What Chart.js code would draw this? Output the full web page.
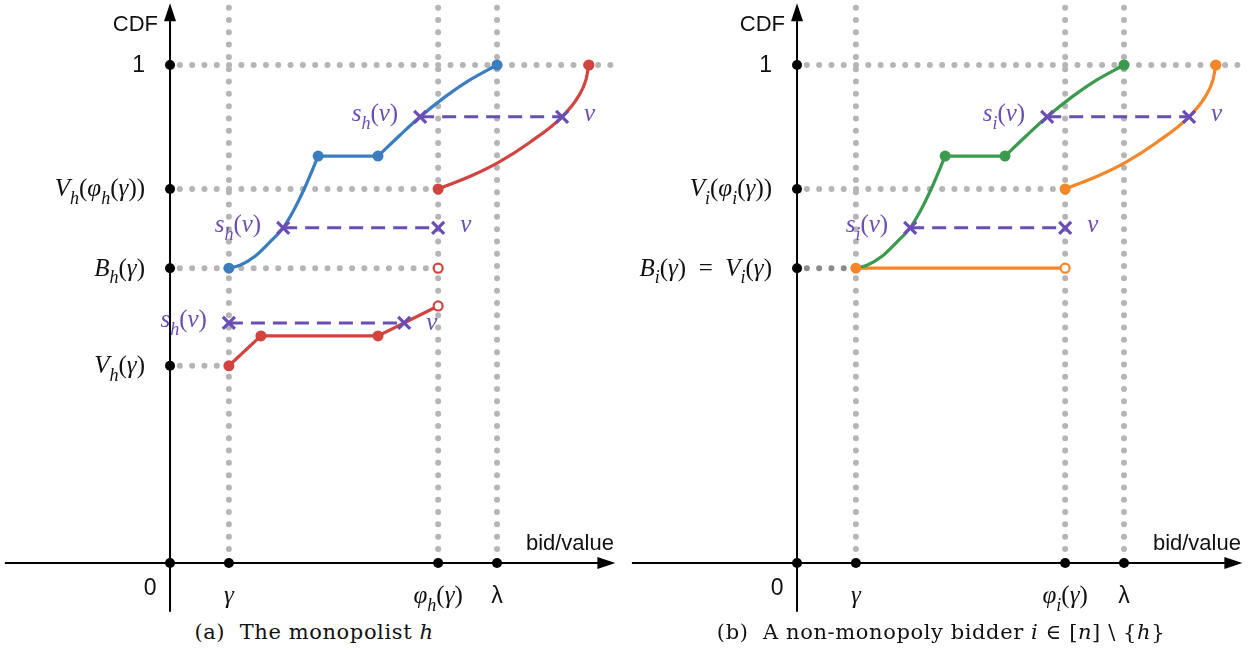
<!DOCTYPE html>
<html>
<head>
<meta charset="utf-8">
<script src="https://cdn.jsdelivr.net/npm/chart.js@4.4.1/dist/chart.umd.min.js"></script>
<style>
  body { margin: 0; background: #fff; width: 1257px; height: 657px; overflow: hidden; position: relative; }
  .panel { position: absolute; top: 0; width: 628px; height: 620px; }
  .cap { position: absolute; top: 620px; width: 628px; text-align: center;
         font-family: 'DejaVu Serif', serif; font-size: 21px; letter-spacing: 0.6px; color: #111; }
</style>
</head>
<body>
<div class="panel" style="left:0"><canvas id="chartA"></canvas></div>
<div class="panel" style="left:627px"><canvas id="chartB"></canvas></div>
<div class="cap" style="left:0">(a)&nbsp; The monopolist <i>h</i></div>
<div class="cap" style="left:627px">(b)&nbsp; A non-monopoly bidder <i>i</i> ∈ [<i>n</i>] \ {<i>h</i>}</div>

<script>
// ---- data (bid/value on x, CDF on y; λ = 1) ----
// ticks on the bid/value axis: 0, γ, φ(γ), λ
const xTicks = [0, 0.18, 0.82, 1.0];
const xTickLabelsA = ['0', 'γ', 'φ_h(γ)', 'λ'];
const xTickLabelsB = ['0', 'γ', 'φ_i(γ)', 'λ'];

// ticks on the CDF axis
const yTicksA = [0.396, 0.592, 0.751, 1.0];
const yTickLabelsA = ['V_h(γ)', 'B_h(γ)', 'V_h(φ_h(γ))', '1'];
const yTicksB = [0.592, 0.751, 1.0];
const yTickLabelsB = ['B_i(γ)  =  V_i(γ)', 'V_i(φ_i(γ))', '1'];

// bid distribution (blue in a, green in b): rise, flat, top
const bidRiseX = [0.18, 0.214, 0.26, 0.306, 0.346, 0.382, 0.413, 0.453];
const bidRiseY = [0.592, 0.598, 0.616, 0.645, 0.673, 0.713, 0.755, 0.817];
const bidFlatX = [0.453, 0.636];
const bidFlatY = [0.817, 0.817];
const bidTopX = [0.636, 0.703, 0.765, 0.841, 0.917, 1.0];
const bidTopY = [0.817, 0.859, 0.896, 0.936, 0.970, 1.0];
const bidKnotX = [0.18, 0.453, 0.636, 1.0];
const bidKnotY = [0.592, 0.817, 0.817, 1.0];

// value distribution of the monopolist, below the jump (red)
const valLowX = [0.18, 0.278, 0.636, 0.82];
const valLowY = [0.396, 0.456, 0.456, 0.516];
// value distribution of bidder i, below the jump (orange)
const valFlatX = [0.18, 0.82];
const valFlatY = [0.592, 0.592];
// value distribution above the jump (red in a, orange in b)
const valHighX = [0.82, 0.92, 1.006, 1.101, 1.199, 1.248, 1.272, 1.281];
const valHighY = [0.751, 0.777, 0.805, 0.845, 0.896, 0.936, 0.970, 1.0];

// s(v) <-> v dashed links
const linkY = [0.673, 0.896, 0.482];
const linkFromX = [0.346, 0.765, 0.18];
const linkToX = [0.82, 1.199, 0.716];

const SERIF = '"Liberation Serif", "DejaVu Serif", serif';
const SANS = '"Liberation Sans", Arial, sans-serif';
const GRAY = '#b5b5b5';
const PURPLE = '#6a4db5';

function pts(xs, ys) { return xs.map((x, i) => ({ x: x, y: ys[i] })); }

// tiny math-text renderer: letters italic, _x subscript, digits/λ sans
function tokens(str) {
  const out = [];
  for (let i = 0; i < str.length; i++) {
    const c = str[i];
    if (c === '_') { out.push([str[++i], 'sub']); continue; }
    if (/[0-9λ]/.test(c)) out.push([c, 'sans']);
    else if (/[()=\[\]{} ]/.test(c)) out.push([c, 'rom']);
    else out.push([c, 'ital']);
  }
  return out;
}
function fontOf(kind, size) {
  if (kind === 'sub') return 'italic ' + Math.round(size * 0.7) + 'px ' + SERIF;
  if (kind === 'sans') return (size - 2) + 'px ' + SANS;
  if (kind === 'rom') return size + 'px ' + SERIF;
  return 'italic ' + size + 'px ' + SERIF;
}
function drawMath(ctx, str, x, cy, align, color, size) {
  const toks = tokens(str);
  let w = 0;
  toks.forEach(t => { ctx.font = fontOf(t[1], size); w += ctx.measureText(t[0]).width; });
  let cx = align === 'right' ? x - w : (align === 'center' ? x - w / 2 : x);
  const base = cy + size * 0.3;
  ctx.fillStyle = color;
  ctx.textAlign = 'left';
  ctx.textBaseline = 'alphabetic';
  toks.forEach(t => {
    ctx.font = fontOf(t[1], size);
    ctx.fillText(t[0], cx, t[1] === 'sub' ? base + size * 0.3 : base);
    cx += ctx.measureText(t[0]).width;
  });
}

function dotted(data, color) {
  return { data: data, showLine: true, borderColor: color || GRAY, borderWidth: 6,
    borderDash: [0.001, 12.3], borderCapStyle: 'round', pointRadius: 0, order: 4 };
}
function curve(xs, ys, color, smooth) {
  return { data: pts(xs, ys), showLine: true, borderColor: color, borderWidth: 3.2,
    cubicInterpolationMode: smooth ? 'monotone' : 'default', tension: 0, pointRadius: 0, order: 2 };
}
function dots(data, color) {
  return { data: data, showLine: false, pointRadius: 5.5, pointBackgroundColor: color,
    pointBorderWidth: 0, order: 1 };
}
function openDots(data, color) {
  return { data: data, showLine: false, pointRadius: 4.5, pointBackgroundColor: '#fff',
    pointBorderColor: color, pointBorderWidth: 2.2, order: 1 };
}
function link(i) {
  return [
    { data: [{ x: linkFromX[i], y: linkY[i] }, { x: linkToX[i], y: linkY[i] }], showLine: true,
      borderColor: PURPLE, borderWidth: 3, borderDash: [14, 8], pointRadius: 0, order: 1 },
    { data: [{ x: linkFromX[i], y: linkY[i] }, { x: linkToX[i], y: linkY[i] }], showLine: false,
      pointStyle: 'crossRot', pointRadius: 8.5, pointBorderColor: PURPLE, pointBorderWidth: 3.2, order: 0 }
  ];
}

function makePanel(id, cfg) {
  const datasets = [];
  // guide lines
  xTicks.slice(1).forEach(x => datasets.push(dotted([{ x: x, y: 1.115 }, { x: x, y: 0.024 }])));
  datasets.push(dotted([{ x: 0.03, y: 1 }, { x: 1.36, y: 1 }]));
  datasets.push(dotted([{ x: 0.03, y: 0.751 }, { x: 0.82, y: 0.751 }]));
  cfg.extraGuides.forEach(g => datasets.push(g));
  // axis dots
  const axisDots = xTicks.map(x => ({ x: x, y: 0 })).concat(cfg.yTicks.map(y => ({ x: 0, y: y })));
  datasets.push({ data: axisDots, showLine: false, pointRadius: 5, pointBackgroundColor: '#000',
    pointBorderWidth: 0, order: 0 });
  cfg.series.forEach(s => datasets.push(s));
  cfg.links.forEach(i => link(i).forEach(d => datasets.push(d)));
  datasets.forEach(d => { d.clip = false; });

  const decor = {
    id: 'decor' + id,
    beforeDatasetsDraw(chart) {
      const ctx = chart.ctx, xs = chart.scales.x, ys = chart.scales.y;
      const ox = xs.getPixelForValue(0), oy = ys.getPixelForValue(0);
      const left = xs.getPixelForValue(-0.505), right = xs.getPixelForValue(1.362);
      const bottom = ys.getPixelForValue(-0.098), top = ys.getPixelForValue(1.124);
      ctx.save();
      ctx.strokeStyle = '#000';
      ctx.fillStyle = '#000';
      ctx.lineWidth = 2;
      ctx.beginPath();
      ctx.moveTo(left, oy); ctx.lineTo(right - 10, oy);
      ctx.moveTo(ox, bottom); ctx.lineTo(ox, top + 10);
      ctx.stroke();
      ctx.beginPath();
      ctx.moveTo(right, oy); ctx.lineTo(right - 18, oy - 6); ctx.lineTo(right - 18, oy + 6); ctx.closePath();
      ctx.moveTo(ox, top); ctx.lineTo(ox - 6, top + 18); ctx.lineTo(ox + 6, top + 18); ctx.closePath();
      ctx.fill();
      ctx.restore();
    },
    afterDatasetsDraw(chart) {
      const ctx = chart.ctx, xs = chart.scales.x, ys = chart.scales.y;
      const ox = xs.getPixelForValue(0), oy = ys.getPixelForValue(0);
      ctx.save();
      ctx.fillStyle = '#111';
      ctx.font = '22px ' + SANS;
      ctx.textAlign = 'right';
      ctx.textBaseline = 'middle';
      ctx.fillText('CDF', ox - 12, ys.getPixelForValue(1.08));
      ctx.textAlign = 'center';
      ctx.fillText('bid/value', xs.getPixelForValue(1.223), oy - 19);
      // y tick labels
      cfg.yTicks.forEach((y, i) => {
        drawMath(ctx, cfg.yLabels[i], ox - 25, ys.getPixelForValue(y), 'right', '#111', 25);
      });
      // x tick labels
      cfg.xLabels.forEach((t, i) => {
        const px = i === 0 ? ox - 20 : xs.getPixelForValue(xTicks[i]);
        drawMath(ctx, t, px, oy + (i === 0 ? 25 : 33), 'center', '#111', 25);
      });
      // s(v) and v labels on the dashed links
      cfg.links.forEach(i => {
        const py = ys.getPixelForValue(linkY[i]) - 3;
        drawMath(ctx, cfg.sLabel, xs.getPixelForValue(linkFromX[i]) - 22, py, 'right', PURPLE, 25);
        drawMath(ctx, 'ν', xs.getPixelForValue(linkToX[i]) + 22, py + (i === 2 ? 3 : 0), 'left', PURPLE, 25);
      });
      ctx.restore();
    }
  };

  return new Chart(document.getElementById(id), {
    type: 'scatter',
    data: { datasets: datasets },
    options: {
      responsive: true,
      maintainAspectRatio: false,
      animation: false,
      events: [],
      layout: { padding: 0, autoPadding: false },
      scales: {
        x: { type: 'linear', display: false, min: -0.52, max: 1.4006 },
        y: { type: 'linear', display: false, min: -0.1145, max: 1.1305 }
      },
      plugins: { legend: { display: false }, tooltip: { enabled: false } }
    },
    plugins: [decor]
  });
}

const BLUE = '#3b7dbf', RED = '#d1443f', GREEN = '#3a9a4e', ORANGE = '#f6862a';

makePanel('chartA', {
  yTicks: yTicksA, yLabels: yTickLabelsA, xLabels: xTickLabelsA, sLabel: 's_h(ν)',
  extraGuides: [
    dotted([{ x: 0.03, y: 0.592 }, { x: 0.82, y: 0.592 }]),
    dotted([{ x: 0.03, y: 0.396 }, { x: 0.18, y: 0.396 }])
  ],
  series: [
    curve(bidRiseX, bidRiseY, BLUE, true),
    curve(bidFlatX, bidFlatY, BLUE, false),
    curve(bidTopX, bidTopY, BLUE, true),
    dots(pts(bidKnotX, bidKnotY), BLUE),
    curve(valLowX, valLowY, RED, false),
    dots(pts(valLowX.slice(0, 3), valLowY.slice(0, 3)), RED),
    openDots([{ x: valLowX[3], y: valLowY[3] }, { x: 0.82, y: 0.592 }], RED),
    curve(valHighX, valHighY, RED, true),
    dots([{ x: valHighX[0], y: valHighY[0] }, { x: valHighX[7], y: valHighY[7] }], RED)
  ],
  links: [0, 1, 2]
});

makePanel('chartB', {
  yTicks: yTicksB, yLabels: yTickLabelsB, xLabels: xTickLabelsB, sLabel: 's_i(ν)',
  extraGuides: [
    dotted([{ x: 0.03, y: 0.592 }, { x: 0.18, y: 0.592 }], '#8a8a8a')
  ],
  series: [
    curve(bidRiseX, bidRiseY, GREEN, true),
    curve(bidFlatX, bidFlatY, GREEN, false),
    curve(bidTopX, bidTopY, GREEN, true),
    dots(pts(bidKnotX.slice(1), bidKnotY.slice(1)), GREEN),
    curve(valFlatX, valFlatY, ORANGE, false),
    dots([{ x: valFlatX[0], y: valFlatY[0] }], ORANGE),
    openDots([{ x: valFlatX[1], y: valFlatY[1] }], ORANGE),
    curve(valHighX, valHighY, ORANGE, true),
    dots([{ x: valHighX[0], y: valHighY[0] }, { x: valHighX[7], y: valHighY[7] }], ORANGE)
  ],
  links: [0, 1]
});
</script>
</body>
</html>
